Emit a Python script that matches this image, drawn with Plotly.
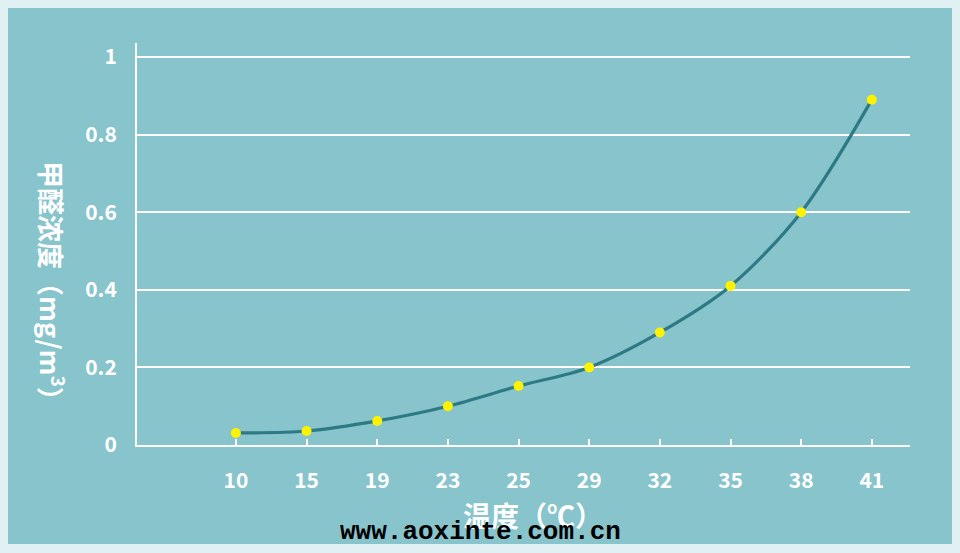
"""Formaldehyde concentration vs temperature chart."""

import plotly.graph_objects as go

temperatures = ["10", "15", "19", "23", "25", "29", "32", "35", "38", "41"]
concentration = [0.031, 0.036, 0.062, 0.10, 0.152, 0.20, 0.29, 0.41, 0.60, 0.89]
y_ticks = [0, 0.2, 0.4, 0.6, 0.8, 1]
y_tick_text = ["0", "0.2", "0.4", "0.6", "0.8", "1"]

PANEL = "#88c4cc"
BORDER = "#e1f0f3"
LINE = "#2d7a84"
FONT = "Noto Sans CJK SC"

# plot area in pixels: x 137..910, y 43..445
PW, PH = 773, 402

fig = go.Figure()
fig.add_trace(
    go.Scatter(
        x=temperatures,
        y=concentration,
        mode="lines",
        line={"color": LINE, "width": 3.2, "shape": "spline", "smoothing": 0.9},
        hoverinfo="skip",
    )
)
fig.add_trace(
    go.Scatter(
        x=temperatures,
        y=concentration,
        mode="markers",
        marker={"color": "#fff200", "size": 10},
        hovertemplate="%{x}℃: %{y}<extra></extra>",
    )
)

fig.update_layout(
    width=960,
    height=553,
    paper_bgcolor=BORDER,
    plot_bgcolor=PANEL,
    showlegend=False,
    margin={"l": 137, "r": 50, "t": 43, "b": 108},
    font={"family": FONT, "color": "white", "size": 17},
    shapes=[
        {
            "type": "rect",
            "xref": "paper",
            "yref": "paper",
            "layer": "below",
            "x0": -129 / PW,
            "x1": 1 + 42 / PW,
            "y0": -99 / PH,
            "y1": 1 + 35 / PH,
            "fillcolor": PANEL,
            "line": {"width": 0},
        }
    ],
    annotations=[
        {
            "text": "甲醛浓度（mg/m<sup>3</sup>）",
            "xref": "paper",
            "yref": "paper",
            "x": -(137 - 53) / PW,
            "y": (445 - 287) / PH,
            "xanchor": "center",
            "yanchor": "middle",
            "textangle": 90,
            "showarrow": False,
            "font": {"size": 27, "color": "white", "family": FONT, "weight": 600},
        },
        {
            "text": "温度（℃）",
            "xref": "paper",
            "yref": "paper",
            "x": (533 - 137) / PW,
            "y": -(515 - 445) / PH,
            "xanchor": "center",
            "yanchor": "middle",
            "showarrow": False,
            "font": {"size": 28, "color": "white", "family": FONT, "weight": 600},
        },
        {
            "text": "<b>www.aoxinte.com.cn</b>",
            "xref": "paper",
            "yref": "paper",
            "x": (480 - 137) / PW,
            "y": -(532 - 445) / PH,
            "xanchor": "center",
            "yanchor": "middle",
            "showarrow": False,
            "font": {"size": 26, "color": "black", "family": "Liberation Mono"},
        },
    ],
)

fig.update_xaxes(
    type="category",
    range=[-1.40, 9.54],
    showgrid=False,
    showline=True,
    linecolor="white",
    linewidth=2,
    ticks="inside",
    ticklen=6,
    tickwidth=1.5,
    tickcolor="white",
    ticklabelstandoff=16,
    tickfont={"size": 21, "color": "white", "weight": 600},
    zeroline=False,
)
fig.update_yaxes(
    range=[0, 1.036],
    tickvals=y_ticks,
    ticktext=y_tick_text,
    showgrid=True,
    gridcolor="white",
    gridwidth=2,
    showline=True,
    linecolor="white",
    linewidth=2,
    ticks="",
    ticklabelstandoff=14,
    tickfont={"size": 21, "color": "white", "weight": 600},
    zeroline=False,
)

fig.write_html(
    "out.html",
    config={"displayModeBar": False},
    post_script="document.body.style.margin = '0';",
)
